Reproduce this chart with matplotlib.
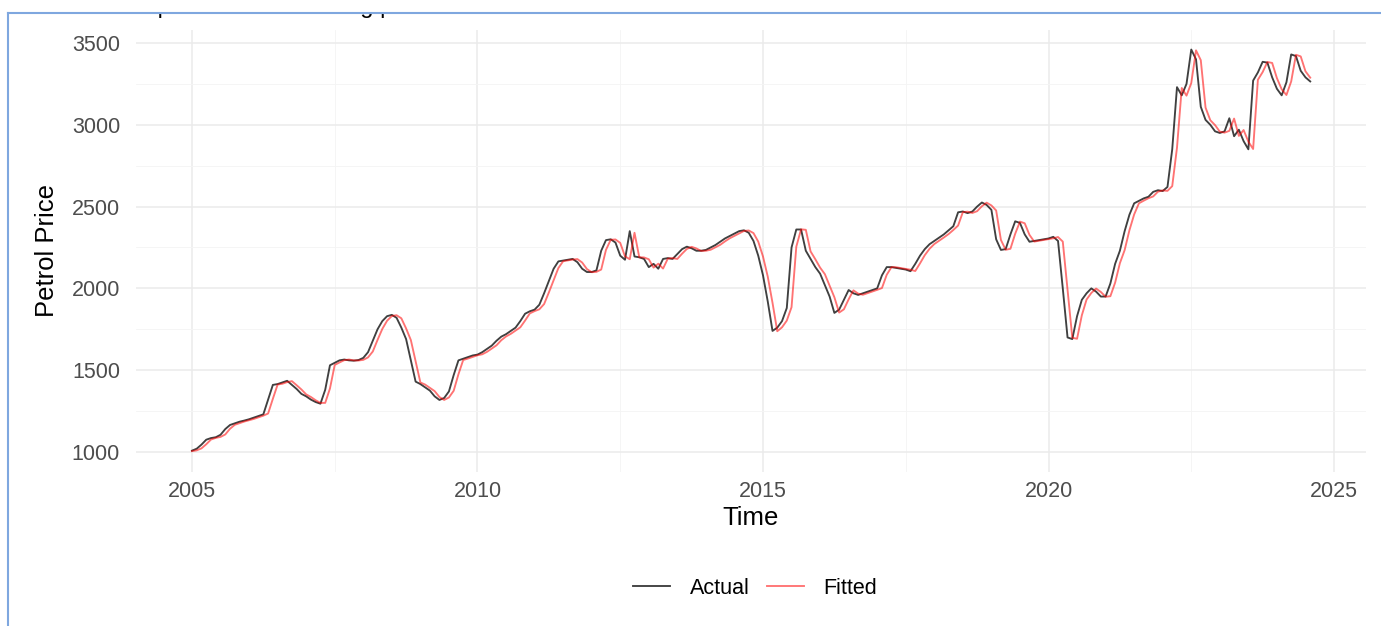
import numpy as np
import matplotlib.pyplot as plt
from matplotlib.lines import Line2D
from matplotlib.patches import Rectangle

plt.rcParams['font.family'] = ['Liberation Sans', 'DejaVu Sans']

# monthly petrol prices, Jan 2005 .. Aug 2024
actual = [
    1008, 1020, 1045, 1075, 1085, 1090, 1105, 1140, 1165, 1175, 1185, 1192,
    1200, 1210, 1220, 1230, 1320, 1410, 1415, 1425, 1435, 1410, 1385, 1355,
    1340, 1320, 1305, 1295, 1380, 1530, 1545, 1560, 1565, 1560, 1558, 1562,
    1575, 1610, 1680, 1750, 1800, 1830, 1838, 1820, 1760, 1690, 1560, 1430,
    1415, 1395, 1375, 1340, 1318, 1330, 1370, 1470, 1560, 1570, 1580, 1590,
    1595, 1610, 1630, 1650, 1680, 1705, 1720, 1740, 1760, 1800, 1845, 1860,
    1870, 1900, 1970, 2045, 2120, 2165, 2170, 2175, 2180, 2160, 2120, 2100,
    2100, 2110, 2230, 2295, 2300, 2280, 2200, 2175, 2350, 2195, 2190, 2180,
    2130, 2150, 2120, 2180, 2185, 2180, 2210, 2240, 2255, 2245, 2230, 2230,
    2235, 2250, 2265, 2285, 2305, 2320, 2335, 2350, 2355, 2340, 2290, 2200,
    2080, 1920, 1740, 1760, 1800, 1880, 2250, 2360, 2360, 2230, 2180, 2130,
    2090, 2020, 1950, 1850, 1870, 1930, 1990, 1970, 1960, 1970, 1980, 1990,
    2000, 2080, 2130, 2130, 2125, 2120, 2115, 2105, 2150, 2200, 2240, 2270,
    2290, 2310, 2330, 2355, 2380, 2465, 2470, 2460, 2470, 2500, 2525, 2510,
    2480, 2300, 2235, 2240, 2330, 2410, 2400, 2330, 2285, 2290, 2295, 2300,
    2305, 2315, 2290, 2000, 1700, 1690, 1830, 1930, 1970, 2000, 1980, 1950,
    1950, 2030, 2150, 2230, 2350, 2450, 2520, 2535, 2550, 2560, 2590, 2600,
    2595, 2620, 2850, 3230, 3180, 3250, 3460, 3400, 3110, 3030, 3000, 2960,
    2950, 2960, 3040, 2930, 2970, 2900, 2850, 3270, 3320, 3385, 3380, 3290,
    3220, 3180, 3260, 3430, 3420, 3330, 3290, 3265,
]

fitted = [
    1005, 1010, 1022, 1047, 1076, 1086, 1092, 1107, 1142, 1166, 1176, 1186,
    1194, 1202, 1212, 1222, 1235, 1325, 1412, 1417, 1427, 1433, 1408, 1382,
    1352, 1336, 1316, 1300, 1300, 1388, 1532, 1547, 1561, 1565, 1560, 1559,
    1563, 1578, 1614, 1685, 1752, 1802, 1831, 1836, 1817, 1755, 1684, 1553,
    1425, 1412, 1392, 1372, 1336, 1318, 1333, 1374, 1475, 1562, 1571, 1581,
    1591, 1597, 1612, 1632, 1652, 1683, 1706, 1722, 1742, 1762, 1803, 1847,
    1861, 1872, 1904, 1975, 2050, 2124, 2166, 2171, 2176, 2179, 2158, 2118,
    2099, 2101, 2115, 2235, 2297, 2299, 2278, 2196, 2178, 2340, 2190, 2189,
    2178, 2127, 2151, 2121, 2182, 2185, 2180, 2212, 2241, 2254, 2244, 2229,
    2230, 2236, 2251, 2266, 2287, 2306, 2321, 2336, 2351, 2354, 2338, 2286,
    2195, 2072, 1912, 1738, 1762, 1803, 1885, 2255, 2361, 2358, 2226, 2178,
    2127, 2087, 2016, 1946, 1852, 1872, 1933, 1988, 1968, 1961, 1971, 1981,
    1991, 2002, 2083, 2130, 2129, 2124, 2119, 2114, 2106, 2153, 2203, 2242,
    2271, 2291, 2311, 2332, 2357, 2384, 2466, 2469, 2461, 2472, 2502, 2524,
    2507, 2476, 2296, 2236, 2242, 2334, 2408, 2398, 2327, 2286, 2291, 2296,
    2301, 2306, 2314, 2286, 1995, 1698, 1692, 1835, 1932, 1972, 1999, 1978,
    1949, 1952, 2035, 2154, 2234, 2355, 2452, 2520, 2536, 2551, 2562, 2591,
    2599, 2596, 2625, 2860, 3225, 3178, 3255, 3455, 3395, 3105, 3028, 2998,
    2958, 2952, 2963, 3038, 2932, 2968, 2897, 2852, 3275, 3322, 3384, 3378,
    3285, 3217, 3182, 3265, 3428, 3418, 3327, 3288,
]

start_year = 2005
years = start_year + np.arange(len(actual)) / 12

xticks = [2005, 2010, 2015, 2020, 2025]
yticks = [1000, 1500, 2000, 2500, 3000, 3500]
xminor = [2007.5, 2012.5, 2017.5, 2022.5]
yminor = [1250, 1750, 2250, 2750, 3250]

W, H = 1381, 626
fig = plt.figure(figsize=(W / 100, H / 100), dpi=100)
ax = fig.add_axes([136 / W, 1 - 471.6 / H, 1230 / W, 441.7 / H])

ax.plot(years, actual, color='black', lw=1.35, alpha=0.75, label='Actual')
ax.plot(years, fitted, color='red', lw=1.35, alpha=0.55, label='Fitted')

ax.set_xlim(2004.02, 2025.56)
ax.set_ylim(880, 3580)
ax.set_xticks(xticks)
ax.set_yticks(yticks)
ax.set_xticks(xminor, minor=True)
ax.set_yticks(yminor, minor=True)
ax.grid(which='major', color='#ebebeb', lw=1.1)
ax.grid(which='minor', color='#f4f4f4', lw=0.6)
ax.set_axisbelow(True)
for s in ax.spines.values():
    s.set_visible(False)
ax.tick_params(which='both', length=0, labelsize=15.5, colors='#4d4d4d')
ax.tick_params(axis='y', pad=11.5)
ax.tick_params(axis='x', pad=7)

ax.set_xlabel('Time', fontsize=18.5, va='center')
ax.set_ylabel('Petrol Price', fontsize=18.5, va='center')
ax.xaxis.set_label_coords(0.5, (471.6 - 518) / 441.7)
ax.yaxis.set_label_coords((47 - 136) / 1230, 0.5)

handles, labels = ax.get_legend_handles_labels()
fig.legend(handles, labels, loc='center', bbox_to_anchor=(755 / W, 1 - 588 / H),
           ncol=2, frameon=False, fontsize=15.5, handlelength=1.75,
           columnspacing=0.8, handletextpad=0.9)

# title cut off by the screenshot frame, only descenders peek through
fig.text(130 / W, 1 - 13.5 / H, 'Exponential Smoothing plot', fontsize=17, va='baseline')
fig.add_artist(Rectangle((0, 1 - 13 / H), 1, 13 / H, transform=fig.transFigure,
                         facecolor='white', edgecolor='none', zorder=10))
fig.add_artist(Line2D([8 / W, 8 / W], [0, 1 - 13 / H], transform=fig.transFigure,
                      color='#7fa7df', lw=1.5, zorder=11))
fig.add_artist(Line2D([8 / W, 1], [1 - 13 / H, 1 - 13 / H], transform=fig.transFigure,
                      color='#7fa7df', lw=1.5, zorder=11))

fig.savefig('out.png', dpi=100)
